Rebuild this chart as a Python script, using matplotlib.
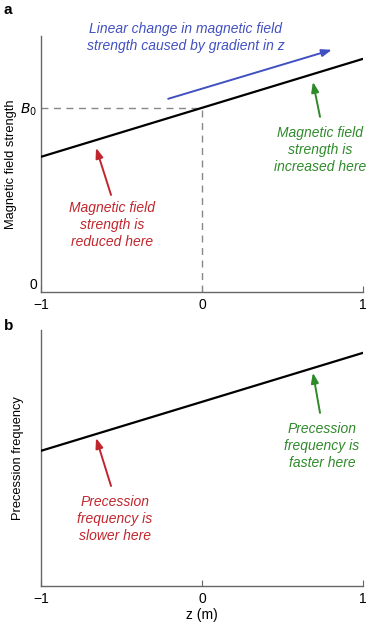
import matplotlib.pyplot as plt
import numpy as np

plt.rcParams['font.family'] = ['Liberation Sans', 'DejaVu Sans']

# z positions and field / frequency values (B0 = 1)
z = [-1, 0, 1]
field = [0.734, 1.0, 1.266]
freq = [0.734, 1.0, 1.266]

x_ticks = [-1, 0, 1]
x_ticklabels = ['\u22121', '0', '1']
y_ticks_a = [0, 1.0]
y_ticklabels_a = ['0', '$B_0$']

red = '#c0262d'
green = '#2f8a2a'
blue = '#4150c0'
spine_col = '#666666'

fig = plt.figure(figsize=(3.7, 6.25), dpi=100)
ax_a = fig.add_axes([41 / 370, 1 - 292 / 625, 322 / 370, 256 / 625])
ax_b = fig.add_axes([41 / 370, 1 - 586 / 625, 322 / 370, 256 / 625])

for ax in (ax_a, ax_b):
    ax.set_xlim(-1, 1)
    ax.set_ylim(0, 1.39)
    ax.spines['top'].set_visible(False)
    ax.spines['right'].set_visible(False)
    for s in ('left', 'bottom'):
        ax.spines[s].set_color(spine_col)
        ax.spines[s].set_linewidth(1.0)
    ax.set_xticks(x_ticks)
    ax.set_xticklabels(x_ticklabels)
    ax.tick_params(axis='x', direction='in', length=4, color=spine_col,
                   labelsize=10, pad=4)
    ax.tick_params(axis='y', length=0, labelsize=10, pad=3)

# panel a
ax_a.plot(z, field, color='black', lw=1.6, zorder=3)
ax_a.plot([-1, 0], [1.0, 1.0], color='#888888', lw=1.0, ls=(0, (5, 4)))
ax_a.plot([0, 0], [0, 1.0], color='#888888', lw=1.0, ls=(0, (5, 4)))
ax_a.set_yticks(y_ticks_a)
ax_a.set_yticklabels(y_ticklabels_a)
ax_a.get_yticklabels()[0].set_va('bottom')
ax_a.set_ylabel('Magnetic field strength', fontsize=9.3)
ax_a.yaxis.set_label_coords(-0.075, 0.5)

txt = dict(fontsize=10, style='italic', ha='center', va='center',
           linespacing=1.25)
arr = lambda c: dict(arrowstyle='-|>,head_length=0.6,head_width=0.22',
                     color=c, lw=1.4, shrinkA=0, shrinkB=0)

ax_a.text(-0.10, 1.383, 'Linear change in magnetic field\nstrength caused by gradient in z',
          color=blue, **txt)
ax_a.annotate('', xy=(0.807, 1.315), xytext=(-0.21, 1.049), arrowprops=arr(blue))
ax_a.annotate('', xy=(-0.658, 0.783), xytext=(-0.565, 0.527), arrowprops=arr(red))
ax_a.text(-0.56, 0.364, 'Magnetic field\nstrength is\nreduced here', color=red, **txt)
ax_a.annotate('', xy=(0.689, 1.141), xytext=(0.733, 0.951), arrowprops=arr(green))
ax_a.text(0.733, 0.772, 'Magnetic field\nstrength is\nincreased here', color=green, **txt)

# panel b
ax_b.plot(z, freq, color='black', lw=1.6, zorder=3)
ax_b.set_yticks([])
ax_b.set_ylabel('Precession frequency', fontsize=9.3)
ax_b.yaxis.set_label_coords(-0.053, 0.5)
ax_b.set_xlabel('z (m)', fontsize=10, labelpad=2)
ax_b.annotate('', xy=(-0.658, 0.804), xytext=(-0.565, 0.543), arrowprops=arr(red))
ax_b.text(-0.54, 0.364, 'Precession\nfrequency is\nslower here', color=red, **txt)
ax_b.annotate('', xy=(0.689, 1.158), xytext=(0.733, 0.940), arrowprops=arr(green))
ax_b.text(0.745, 0.761, 'Precession\nfrequency is\nfaster here', color=green, **txt)

fig.text(4 / 370, 1 - 10 / 625, 'a', fontsize=11, fontweight='bold', va='center')
fig.text(4 / 370, 1 - 326 / 625, 'b', fontsize=11, fontweight='bold', va='center')

fig.savefig('out.png', dpi=100)
